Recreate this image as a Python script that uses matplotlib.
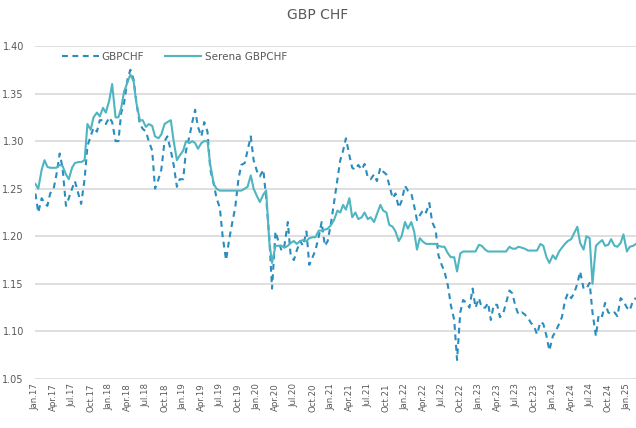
import pandas as pd
import matplotlib
matplotlib.use("Agg")
import matplotlib.pyplot as plt

# semi-monthly readings (1st and 15th of each month), Jan 2017 - Feb 2025
dates = pd.date_range("2017-01-01", "2025-02-15", freq="SMS")

gbpchf = [
    # 2017
    1.245, 1.225, 1.24, 1.235, 1.232, 1.245, 1.25, 1.265, 1.287, 1.272, 1.232, 1.24,
    1.25, 1.258, 1.245, 1.234, 1.26, 1.295, 1.305, 1.314, 1.31, 1.322, 1.322, 1.318,
    # 2018
    1.325, 1.32, 1.30, 1.30, 1.33, 1.34, 1.365, 1.375, 1.365, 1.34, 1.318, 1.313,
    1.31, 1.30, 1.29, 1.25, 1.26, 1.27, 1.30, 1.305, 1.29, 1.275, 1.252, 1.26,
    # 2019
    1.26, 1.29, 1.305, 1.32, 1.333, 1.315, 1.305, 1.32, 1.31, 1.27, 1.255, 1.24,
    1.23, 1.20, 1.175, 1.195, 1.215, 1.23, 1.26, 1.275, 1.277, 1.29, 1.305, 1.28,
    # 2020
    1.268, 1.263, 1.27, 1.24, 1.20, 1.145, 1.205, 1.195, 1.185, 1.19, 1.215, 1.18,
    1.175, 1.185, 1.195, 1.19, 1.205, 1.17, 1.178, 1.185, 1.20, 1.215, 1.19, 1.195,
    # 2021
    1.215, 1.235, 1.26, 1.28, 1.29, 1.303, 1.285, 1.272, 1.27, 1.275, 1.27, 1.276,
    1.262, 1.26, 1.265, 1.258, 1.272, 1.268, 1.265, 1.254, 1.24, 1.245, 1.23, 1.237,
    # 2022
    1.253, 1.248, 1.245, 1.232, 1.217, 1.222, 1.228, 1.225, 1.235, 1.215, 1.207, 1.18,
    1.17, 1.163, 1.148, 1.128, 1.112, 1.07, 1.12, 1.133, 1.13, 1.125, 1.145, 1.125,
    # 2023
    1.135, 1.125, 1.125, 1.13, 1.112, 1.128, 1.128, 1.115, 1.119, 1.13, 1.143, 1.14,
    1.126, 1.118, 1.12, 1.118, 1.114, 1.109, 1.105, 1.097, 1.11, 1.108, 1.095, 1.08,
    # 2024
    1.095, 1.10, 1.108, 1.115, 1.132, 1.14, 1.135, 1.14, 1.15, 1.163, 1.145, 1.145,
    1.151, 1.12, 1.095, 1.118, 1.116, 1.13, 1.12, 1.118, 1.12, 1.116, 1.135, 1.132,
    # 2025
    1.125, 1.122, 1.133, 1.135,
]

serena = [
    # 2017
    1.255, 1.25, 1.27, 1.28, 1.273, 1.272, 1.272, 1.272, 1.275, 1.274, 1.265, 1.26,
    1.272, 1.277, 1.278, 1.278, 1.28, 1.318, 1.312, 1.325, 1.33, 1.326, 1.335, 1.33,
    # 2018
    1.343, 1.36, 1.325, 1.325, 1.335, 1.352, 1.362, 1.37, 1.363, 1.34, 1.322, 1.322,
    1.315, 1.318, 1.316, 1.305, 1.303, 1.307, 1.318, 1.32, 1.322, 1.30, 1.28, 1.285,
    # 2019
    1.29, 1.30, 1.298, 1.30, 1.298, 1.292, 1.298, 1.30, 1.30, 1.275, 1.255, 1.25,
    1.248, 1.248, 1.248, 1.248, 1.248, 1.248, 1.248, 1.248, 1.25, 1.252, 1.264, 1.25,
    # 2020
    1.242, 1.236, 1.244, 1.248, 1.195, 1.172, 1.19, 1.19, 1.19, 1.188, 1.19, 1.193,
    1.195, 1.192, 1.195, 1.196, 1.195, 1.198, 1.199, 1.199, 1.206, 1.206, 1.207, 1.208,
    # 2021
    1.212, 1.217, 1.227, 1.225, 1.233, 1.228, 1.24, 1.22, 1.225, 1.218, 1.22, 1.225,
    1.218, 1.22, 1.215, 1.223, 1.233, 1.227, 1.225, 1.212, 1.21, 1.205, 1.195, 1.20,
    # 2022
    1.215, 1.208, 1.215, 1.205, 1.186, 1.198, 1.194, 1.192, 1.192, 1.192, 1.192, 1.19,
    1.189, 1.189, 1.182, 1.178, 1.178, 1.163, 1.182, 1.184, 1.184, 1.184, 1.184, 1.184,
    # 2023
    1.191, 1.19, 1.186, 1.184, 1.184, 1.184, 1.184, 1.184, 1.184, 1.184, 1.189, 1.187,
    1.187, 1.189, 1.188, 1.187, 1.185, 1.185, 1.185, 1.185, 1.192, 1.19, 1.178, 1.172,
    # 2024
    1.18, 1.176, 1.184, 1.188, 1.192, 1.195, 1.197, 1.203, 1.21, 1.193, 1.186, 1.20,
    1.198, 1.15, 1.19, 1.193, 1.196, 1.19, 1.191, 1.197, 1.19, 1.189, 1.193, 1.202,
    # 2025
    1.184, 1.189, 1.19, 1.192,
]

yticks = [1.05, 1.10, 1.15, 1.20, 1.25, 1.30, 1.35, 1.40]
xticks = pd.date_range("2017-01-01", "2025-01-01", freq="QS")

fig = plt.figure(figsize=(6.36, 4.28), dpi=100)
ax = fig.add_axes([35/636, 49/428, 601/636, 333/428])

ax.plot(dates, gbpchf, color="#2b8cbe", lw=1.5, dashes=(2.8, 2.2), label="GBPCHF")
ax.plot(dates, serena, color="#4fb5c0", lw=1.5, label="Serena GBPCHF")

ax.set_ylim(1.05, 1.40)
ax.set_xlim(pd.Timestamp("2016-12-30"), pd.Timestamp("2025-02-15"))
ax.set_yticks(yticks)
ax.set_yticklabels([f"{v:.2f}" for v in yticks])
ax.set_xticks(xticks)
ax.set_xticklabels([d.strftime("%b.%y") for d in xticks], rotation=90)

ax.grid(axis="y", color="#d9d9d9", lw=1.2)
ax.set_axisbelow(True)
for s in ax.spines.values():
    s.set_visible(False)
ax.tick_params(axis="both", length=0, colors="#595959")
ax.tick_params(axis="y", labelsize=7, pad=8)
ax.tick_params(axis="x", labelsize=6.2, pad=3)

ax.legend(loc="center left", bbox_to_anchor=(0.045, 0.967), ncol=2, frameon=False,
          fontsize=7.5, handlelength=3.5, handletextpad=0.3, columnspacing=2.0,
          borderaxespad=0, borderpad=0, labelcolor="#595959")

fig.text(0.5, 0.965, "GBP CHF", ha="center", va="center", fontsize=10, color="#595959")

fig.savefig("out.png", dpi=100)
